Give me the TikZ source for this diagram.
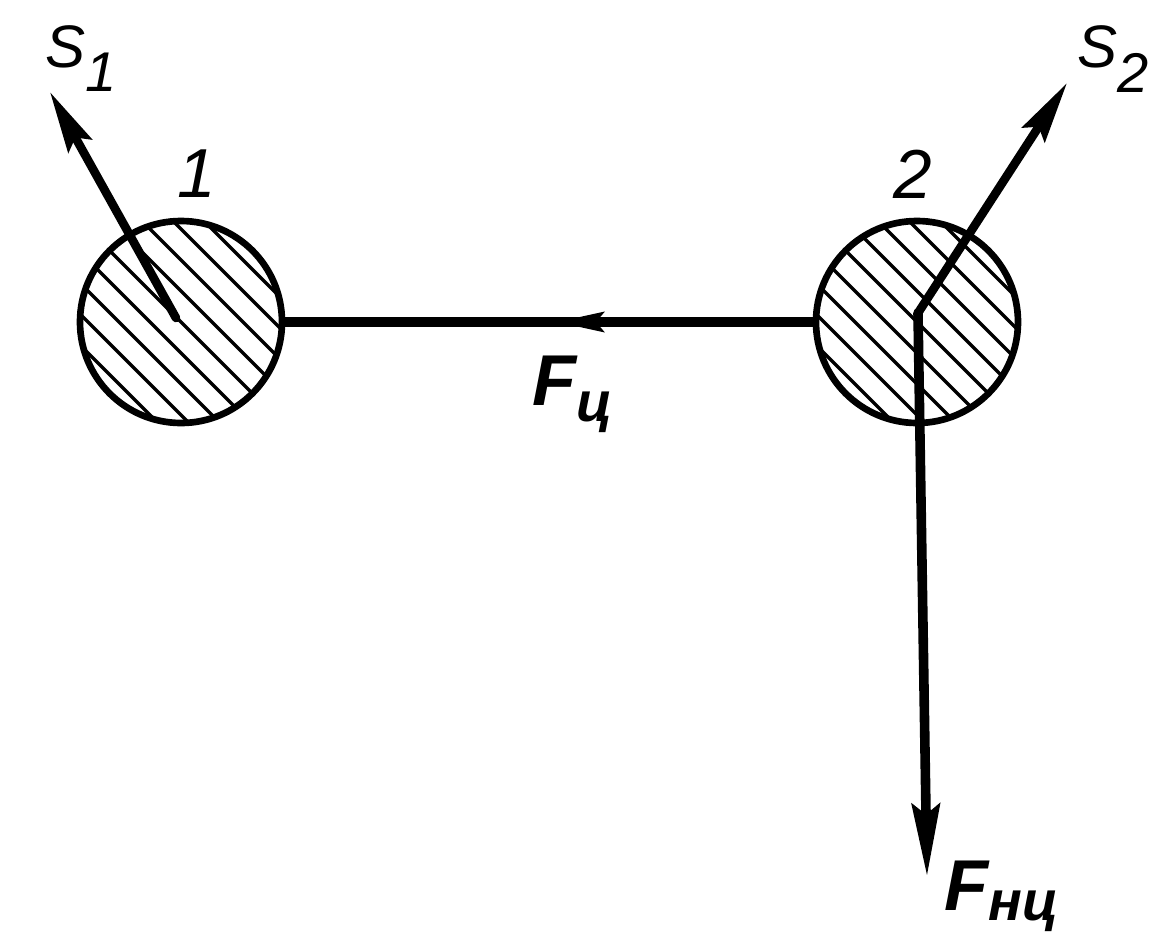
\documentclass[tikz,border=0pt]{standalone}
\usepackage{fontspec}
\setmainfont{Liberation Sans}
\usetikzlibrary{arrows.meta,decorations.markings}

\newcommand{\lowr}[2]{\raisebox{-#1}{#2}}

\tikzset{
  ball/.style={circle, draw, line width=5pt, minimum size=151.5pt, inner sep=0pt},
  hatch/.style={line width=2.6pt},
  rod/.style={line width=7pt},
  force/.style={line width=6.5pt, line cap=round, -{Stealth[length=46pt,width=20pt,inset=7pt]}},
  lbl/.style={inner sep=0pt, font=\itshape\fontsize{52}{60}\selectfont},
  flbl/.style={inner sep=0pt, font=\bfseries\itshape\fontsize{54}{60}\selectfont},
  slbl/.style={inner sep=0pt, font=\itshape\fontsize{45}{50}\selectfont},
}

\begin{document}
\begin{tikzpicture}[x=0.75pt,y=0.75pt,yscale=-1,xscale=1]
\useasboundingbox (0,0) rectangle (1153,935);

% Balls with hatching
\foreach \cx/\cy [count=\i] in {181/322, 917/322} {
  \node[ball] (m\i) at (\cx,\cy) {};
  \begin{scope}
    \clip (\cx,\cy) circle (101);
    \foreach \k in {-7,...,7}
      \draw[hatch] (\cx+\k*15.5-130,\cy-\k*15.5-130) -- ++(260,260);
  \end{scope}
}

% Rod between the balls
\draw[rod, postaction={decorate},
  decoration={markings, mark=at position 0.49 with {\arrow{Stealth[length=36pt,width=14pt,inset=5pt]}}}]
  (m2) -- (m1);

% Velocities and force
\coordinate (a1) at (176,318);
\coordinate (t1) at (50,92);
\coordinate (b2) at (918,313);
\coordinate (t2) at (1067,83);
\coordinate (t3) at (927,876);
\draw[force] (a1) -- (t1);
\draw[force] (b2) -- (t2);
\draw[force, line width=7.2pt, -{Stealth[length=54pt,width=21pt,inset=8pt]}] (b2) -- (t3);

% Text Nodes
\node[slbl, anchor=base west] (s1) at (45,67) {S\lowr{18pt}{\fontsize{42}{46}\selectfont 1}};
\node[slbl, anchor=base west] (s2) at (1077,67) {S\lowr{19pt}{\fontsize{42}{46}\selectfont 2}};
\node[lbl, anchor=base] (n1) at (197,197) {1};
\node[lbl, anchor=base] (n2) at (913,198) {2};
\node[flbl, anchor=base west] (fc) at (532,405) {F\lowr{12pt}{\fontsize{42}{44}\selectfont ц}};
\node[flbl, anchor=base west] (fnc) at (944,910) {F\lowr{8pt}{\fontsize{42}{44}\selectfont нц}};

\end{tikzpicture}
\end{document}
